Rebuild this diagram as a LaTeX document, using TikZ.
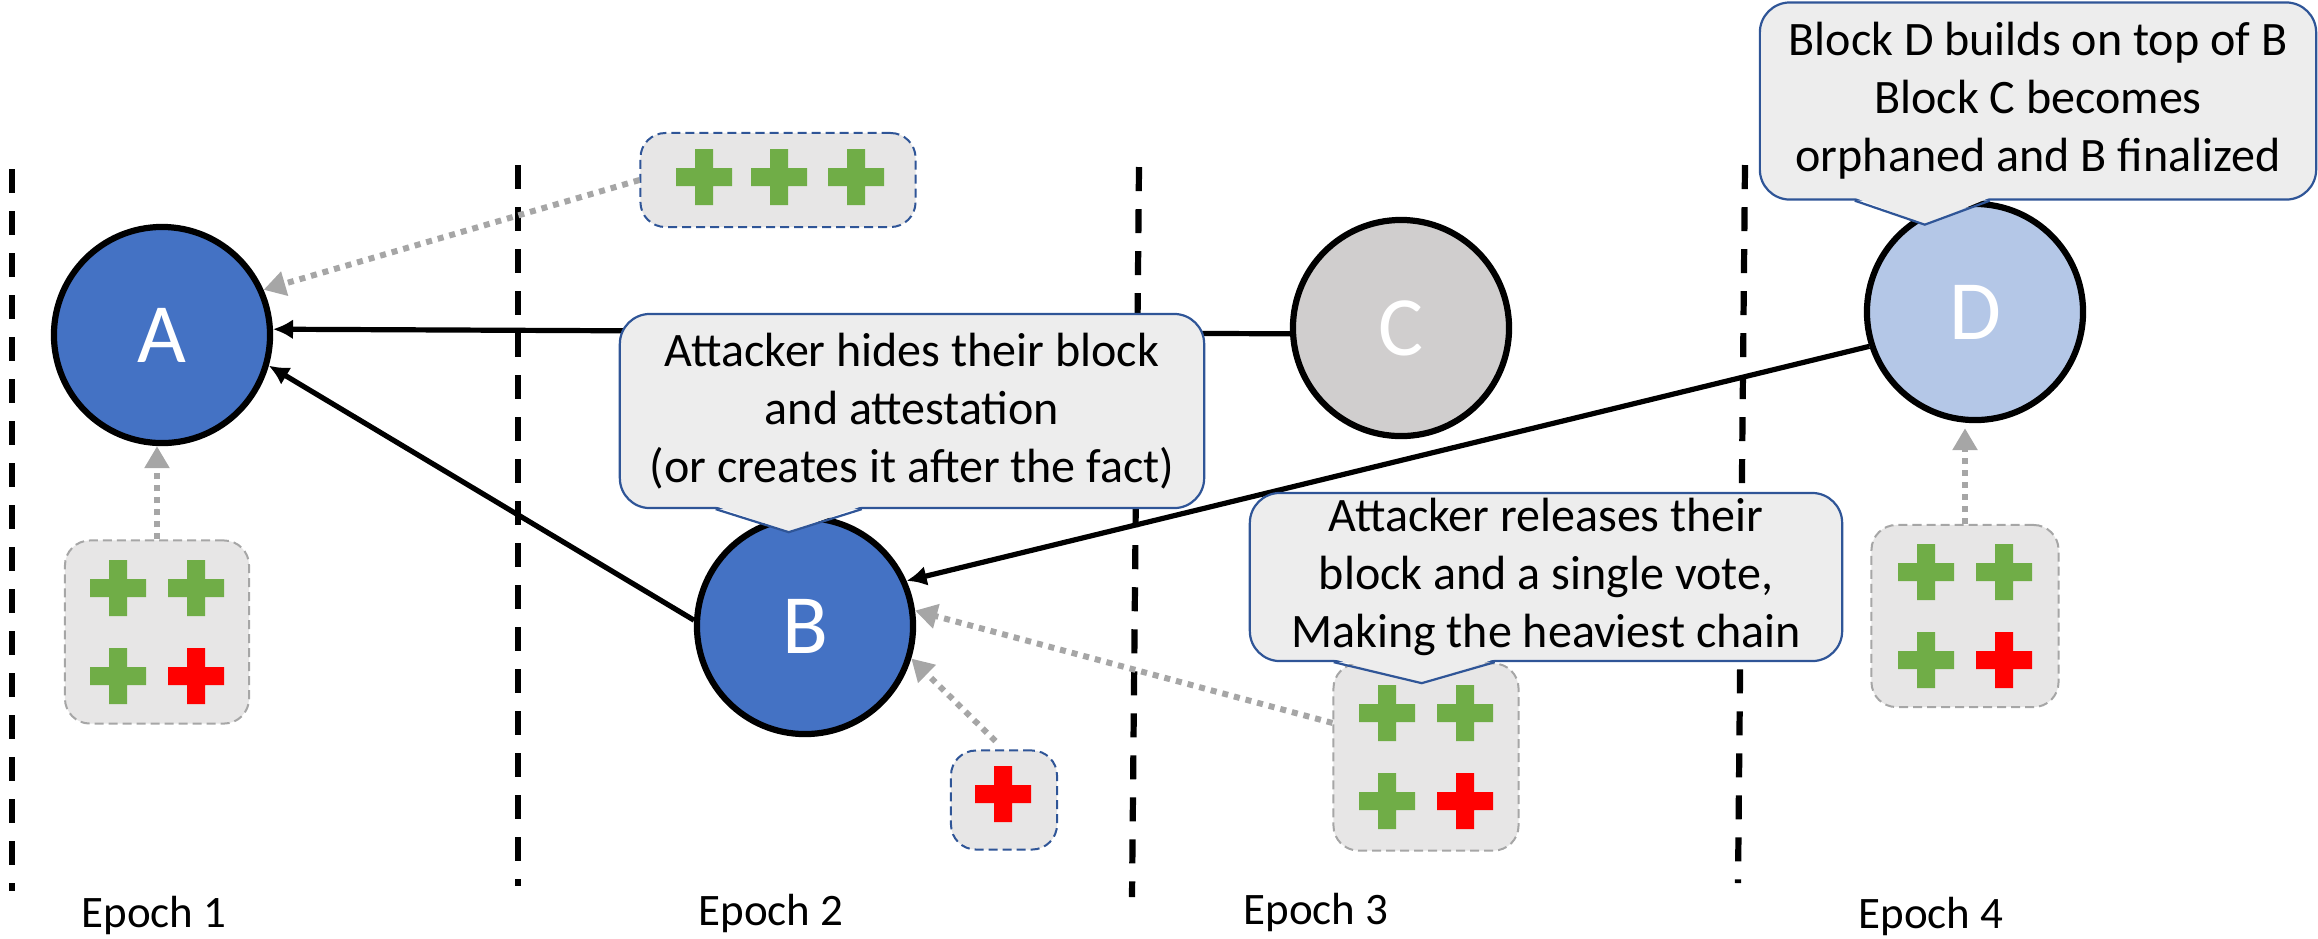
\documentclass[tikz,border=0pt]{standalone}
\usepackage{fontspec}
\setmainfont{Carlito}
\usetikzlibrary{arrows.meta,calc}

\definecolor{blockblue}{HTML}{4472C4}
\definecolor{blockgray}{HTML}{D0CECE}
\definecolor{blocklight}{HTML}{B4C7E7}
\definecolor{votegreen}{HTML}{70AD47}
\definecolor{votered}{HTML}{FF0000}
\definecolor{votefill}{HTML}{E7E6E6}
\definecolor{voteline}{HTML}{A6A6A6}
\definecolor{noteline}{HTML}{2F5597}
\definecolor{notefill}{HTML}{EDEDED}

\tikzset{
  block/.style={circle, draw=black, line width=0.062cm, minimum size=2.16cm,
    inner sep=0pt, text=white, font=\fontsize{24}{29}\selectfont},
  votes/.style={rounded corners=0.25cm, fill=votefill, draw=voteline,
    line width=0.02cm, dash pattern=on 0.09cm off 0.05cm, inner sep=0pt},
  bubble/.style={rounded corners=0.3cm, fill=notefill, draw=noteline,
    line width=0.022cm, inner sep=0pt, align=center,
    font=\fontsize{13.66}{16.5}\selectfont},
  chain/.style={line width=0.052cm, -{Latex[length=0.2cm,width=0.2cm]}},
  vote/.style={voteline, line width=0.06cm, dash pattern=on 0.06cm off 0.06cm,
    -{Triangle[length=0.22cm,width=0.24cm]}},
  epochline/.style={line width=0.062cm, dash pattern=on 0.24cm off 0.18cm},
  epoch/.style={anchor=base, font=\fontsize{12.8}{15}\selectfont}
}

\begin{document}
\begin{tikzpicture}[x=0.01cm,y=-0.01cm]

% canvas in pixels:
\useasboundingbox (0,0) rectangle (2318,938);
% vote cross size:
\pgfmathsetmacro\armlen{28}
\pgfmathsetmacro\armwd{9}

\newcommand{\voteplus}[3]{
  \fill[#3] (#1-\armlen,#2-\armwd) rectangle (#1+\armlen,#2+\armwd)
            (#1-\armwd,#2-\armlen) rectangle (#1+\armwd,#2+\armlen);
}
\newcommand{\notetip}[5]{
  \fill[notefill] ($(#1.south west)+(#2,-3)$) -- ($(#1.south west)+(#3,#4)$)
                  -- ($(#1.south west)+(#5,-3)$) -- cycle;
  \draw[noteline, line width=0.022cm] ($(#1.south west)+(#2,0)$)
                  -- ($(#1.south west)+(#3,#4)$) -- ($(#1.south west)+(#5,0)$);
}

% epoch borders
\foreach \xt/\yt/\xb/\yb in {12/169/12/891, 518/165/518/886, 1139/167/1132/897, 1745/165/1738/883}{
  \draw[epochline] (\xt,\yt) -- (\xb,\yb);
}

% blocks
\node[block, fill=blockblue] (A) at (162,335) {A};
\node[block, fill=blockblue] (B) at (805,626) {B};
\node[block, fill=blockgray] (C) at (1401,328) {C};
\node[block, fill=blocklight] (D) at (1975,312) {D};

% attestations
\node[votes, minimum width=1.84cm, minimum height=1.83cm] (vA) at (157,632) {};
\node[votes, draw=noteline, minimum width=2.75cm, minimum height=0.94cm] (vtop) at (778,180) {};
\node[votes, draw=noteline, minimum width=1.06cm, minimum height=0.99cm] (vred) at (1004,800) {};
\node[votes, minimum width=1.85cm, minimum height=1.87cm] (v3) at (1426,757) {};
\node[votes, minimum width=1.87cm, minimum height=1.82cm] (v4) at (1965,616) {};

\foreach \v in {vA,v3,v4}{
  \begin{scope}[shift={(\v)}]
    \voteplus{-39}{-44}{votegreen}
    \voteplus{39}{-44}{votegreen}
    \voteplus{-39}{44}{votegreen}
    \voteplus{39}{44}{votered}
  \end{scope}
}
\foreach \cx in {704,779,856}{
  \voteplus{\cx}{177}{votegreen}
}
\voteplus{1003}{794}{votered}

% chain links
\draw[chain] (C.183) -- (A.3);
\draw[chain] (B.177) -- (A.-16);
\draw[chain] (D.198) -- (B.24);

% votes for blocks
\draw[vote] (vtop.west) -- (A.24);
\draw[vote] (vA.north) -- (vA.north |- A.south);
\draw[vote, shorten <=0.12cm] (vred.north) -- (B.-17);
\draw[vote] (v3.160) -- (B.8);
\draw[vote, shorten >=0.05cm] (v4.north) -- (v4.north |- D.south);

% notes
\node[bubble, minimum width=5.84cm, minimum height=1.94cm] (hide) at (912,411)
  {Attacker hides their block\\and attestation\\(or creates it after the fact)};
\notetip{hide}{97}{170}{23}{243}

\node[bubble, minimum width=5.92cm, minimum height=1.68cm] (release) at (1546,577)
  {Attacker releases their\\block and a single vote,\\Making the heaviest chain};
\notetip{release}{85}{173}{21}{246}

\node[bubble, minimum width=5.56cm, minimum height=1.97cm] (final) at (2038,101)
  {Block D builds on top of B\\Block C becomes\\orphaned and B finalized};
\notetip{final}{96}{166}{24}{231}

% epoch labels
\node[epoch] (e1) at (154,927) {Epoch 1};
\node[epoch] (e2) at (771,925) {Epoch 2};
\node[epoch] (e3) at (1316,924) {Epoch 3};
\node[epoch] (e4) at (1931,928) {Epoch 4};

\end{tikzpicture}
\end{document}
